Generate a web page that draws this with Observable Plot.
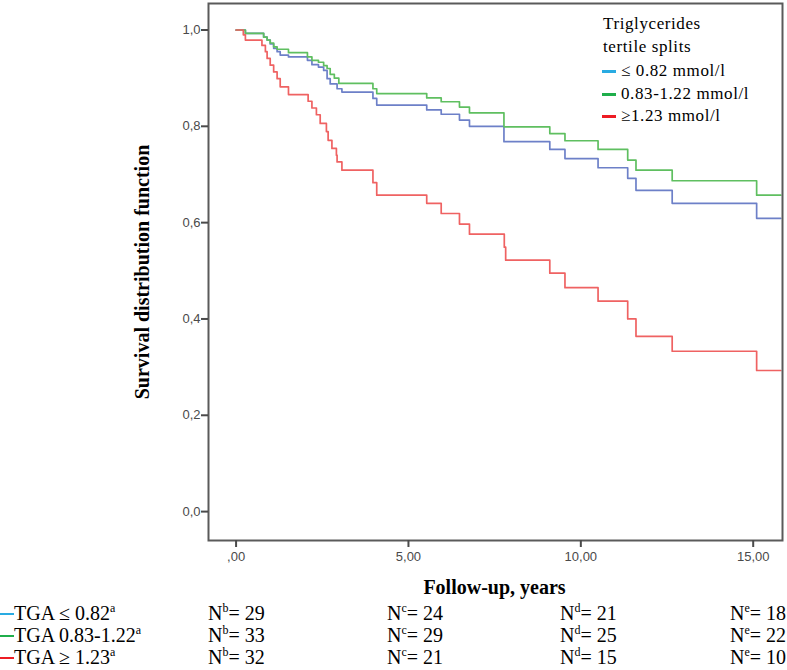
<!DOCTYPE html>
<html><head><meta charset="utf-8">
<script src="https://cdn.jsdelivr.net/npm/d3@7"></script>
<script src="https://cdn.jsdelivr.net/npm/@observablehq/plot@0.6"></script>
<style>
body{margin:0;background:#fff;}
#wrap{position:relative;width:787px;height:670px;overflow:hidden;font-family:"Liberation Serif","Times New Roman",serif;color:#000;}
#chart{position:absolute;left:0;top:0;}
.abs{position:absolute;white-space:nowrap;}
.leg{font-size:17px;letter-spacing:0.6px;line-height:22px;font-family:"Liberation Serif","Times New Roman",serif;}
.sw{position:absolute;width:14px;height:3px;}
.row{font-size:20px;line-height:22px;}
sup{font-size:12px;vertical-align:0;position:relative;top:-8px;}
</style></head>
<body><div id="wrap"><div id="chart"></div></div>
<script>
// ---- data ----
const groups = ["≤ 0.82 mmol/l", "0.83-1.22 mmol/l", "≥1.23 mmol/l"];
const curveColors = ["#6d80c8", "#5fbf60", "#ef6262"];
const legendColors = ["#29abe2", "#1fae4b", "#ed1c24"];

const lowT = [0, 0.27, 0.8, 0.9, 0.99, 1.09, 1.19, 1.28, 1.52, 2.07, 2.2, 2.39, 2.54, 2.64, 2.73, 2.93, 3.07, 3.97, 4.08, 5.53, 5.95, 6.48, 6.77, 7.77, 9.1, 9.54, 10.5, 11.36, 11.6, 12.65, 15.1, 15.8];
const lowS = [1.0, 0.993, 0.985, 0.979, 0.971, 0.962, 0.955, 0.948, 0.944, 0.937, 0.928, 0.923, 0.916, 0.899, 0.888, 0.878, 0.871, 0.858, 0.844, 0.834, 0.825, 0.813, 0.800, 0.768, 0.752, 0.733, 0.714, 0.692, 0.667, 0.640, 0.609, 0.609];

const midT = [0, 0.27, 0.8, 0.9, 0.99, 1.09, 1.19, 1.52, 2.07, 2.2, 2.39, 2.54, 2.64, 2.73, 2.85, 2.98, 3.97, 4.08, 5.53, 5.95, 6.48, 6.77, 7.77, 9.1, 9.54, 10.5, 11.36, 11.6, 12.65, 15.1, 15.8];
const midS = [1.0, 0.993, 0.985, 0.979, 0.973, 0.965, 0.960, 0.953, 0.944, 0.937, 0.933, 0.926, 0.920, 0.908, 0.900, 0.889, 0.878, 0.868, 0.859, 0.851, 0.840, 0.828, 0.799, 0.785, 0.770, 0.752, 0.730, 0.709, 0.687, 0.657, 0.657];

const highT = [0, 0.21, 0.27, 0.75, 0.85, 0.9, 0.99, 1.09, 1.19, 1.28, 1.52, 2.09, 2.2, 2.33, 2.44, 2.62, 2.67, 2.78, 2.91, 2.93, 3.07, 3.97, 4.08, 5.53, 5.95, 6.48, 6.77, 7.78, 7.82, 9.1, 9.54, 10.5, 11.36, 11.6, 12.65, 15.1, 15.8];
const highS = [1.0, 0.99, 0.979, 0.968, 0.955, 0.941, 0.927, 0.913, 0.899, 0.882, 0.866, 0.852, 0.838, 0.824, 0.806, 0.789, 0.771, 0.754, 0.740, 0.726, 0.709, 0.683, 0.657, 0.640, 0.619, 0.597, 0.576, 0.549, 0.522, 0.495, 0.465, 0.437, 0.400, 0.364, 0.333, 0.293, 0.293];

const xTicks = [0, 5, 10, 15];
const xTickLabels = [",00", "5,00", "10,00", "15,00"];
const yTicks = [0, 0.2, 0.4, 0.6, 0.8, 1.0];
const yTickLabels = ["0,0", "0,2", "0,4", "0,6", "0,8", "1,0"];

const yTitle = "Survival distribution function";
const xTitle = "Follow-up, years";
const legendTitle = ["Triglycerides", "tertile splits"];

const tableLabels = ["TGA ≤ 0.82", "TGA 0.83-1.22", "TGA ≥ 1.23"];
const tableSup = ["b", "c", "d", "e"];
const atRisk = [[29, 24, 21, 18], [33, 29, 25, 22], [32, 21, 15, 10]];

// ---- build ----
const rows = [];
[[lowT, lowS], [midT, midS], [highT, highS]].forEach(([T, S], gi) => {
  T.forEach((t, i) => rows.push({t, s: S[i], g: groups[gi]}));
});

const plot = Plot.plot({
  width: 787, height: 570,
  marginLeft: 208, marginRight: 5, marginTop: 3, marginBottom: 30,
  style: {color: "#4a4a4a", fontFamily: "'Liberation Sans', Arial, sans-serif", fontSize: "13px", background: "#fff"},
  x: {domain: [-0.8, 15.85]},
  y: {domain: [-0.06, 1.055]},
  color: {domain: groups, range: curveColors},
  marks: [
    Plot.line(rows, {x: "t", y: "s", z: "g", stroke: "g", curve: "step-after", strokeWidth: 1.7}),
    Plot.frame({stroke: "#5a5a5a", strokeWidth: 2}),
    Plot.axisY({ticks: yTicks, tickFormat: d => yTickLabels[yTicks.findIndex(v => Math.abs(v - d) < 1e-9)], tickSize: 7, tickPadding: 1, strokeWidth: 2, label: null, fontSize: 13}),
    Plot.axisX({ticks: xTicks, tickFormat: d => xTickLabels[xTicks.indexOf(d)], tickSize: 7, tickPadding: 4, strokeWidth: 2, label: null, fontSize: 13}),
    Plot.text([yTitle], {text: d => d, frameAnchor: "left", textAnchor: "middle", rotate: -90, dx: -66, fontSize: 20, fontWeight: "bold", fontFamily: "'Liberation Serif', 'Times New Roman', serif", fill: "#000"})
  ]
});
const wrap = document.getElementById("wrap");
document.getElementById("chart").appendChild(plot);

function addDiv(cls, html, left, top, extra) {
  const d = document.createElement("div");
  d.className = "abs " + cls;
  d.innerHTML = html;
  d.style.left = left + "px";
  d.style.top = top + "px";
  if (extra) Object.assign(d.style, extra);
  wrap.appendChild(d);
  return d;
}

// legend inside the plot
legendTitle.forEach((t, i) => addDiv("leg", t, 603, 13 + i * 23));
groups.forEach((g, i) => {
  const y = 60 + i * 22.5;
  addDiv("leg", g, 621, y);
  const s = addDiv("sw", "", 602, y + 10);
  s.style.background = legendColors[i];
});

// x title
addDiv("", xTitle, 494.5, 575, {transform: "translateX(-50%)", fontSize: "20px", fontWeight: "bold", lineHeight: "24px"});

// at-risk table
const colX = [208, 387, 560, 730];
tableLabels.forEach((lab, r) => {
  const y = 602 + r * 22;
  const s = addDiv("sw", "", 0, y + 11);
  s.style.background = legendColors[r];
  s.style.height = "2px";
  addDiv("row", lab + "<sup>a</sup>", 14, y);
  atRisk[r].forEach((n, c) => addDiv("row", "N<sup>" + tableSup[c] + "</sup>= " + n, colX[c], y));
});
</script>
</body></html>
